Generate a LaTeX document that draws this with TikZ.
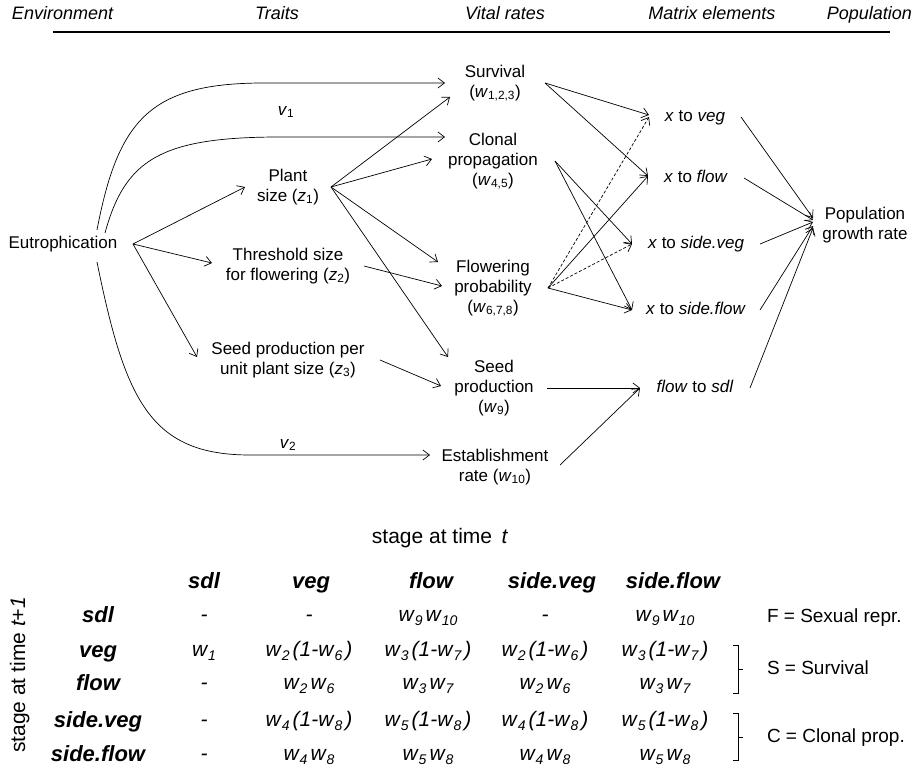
\documentclass[tikz,border=0pt]{standalone}
\usepackage{fontspec}
\setmainfont{Liberation Sans}
\usetikzlibrary{arrows.meta}
\newcommand\ww[1]{\textit{w}\kern1pt\raisebox{-4pt}{\fontsize{14}{14}\selectfont\textit{#1}}}
\begin{document}
\begin{tikzpicture}[x=1pt,y=-1pt,
  every node/.style={inner sep=0pt, outer sep=0pt},
  txt/.style={font=\fontsize{17}{20}\selectfont, align=center, minimum height=20pt},
  one/.style={txt, text height=12.5pt, text depth=4pt},
  head/.style={font=\fontsize{18}{20}\selectfont\itshape, text height=13pt, text depth=4pt},
  arr/.style={-{Straight Barb[length=6.5pt,width=10pt]}, line width=0.7pt},
  dsh/.style={arr, dash pattern=on 3pt off 2pt},
  ln/.style={line width=0.7pt},
  tlab/.style={font=\fontsize{22}{24}\selectfont\bfseries\itshape, text height=16pt, text depth=5pt},
  tent/.style={font=\fontsize{21}{24}\selectfont\itshape, text height=15pt, text depth=7pt},
  rlab/.style={font=\fontsize{19}{22}\selectfont, anchor=west, text height=14pt, text depth=4pt},
]
\useasboundingbox (0,0) rectangle (914,768);

% header
\node[head, anchor=west] (hEnv) at (12,15) {Environment};
\node[head] (hTr) at (277,15) {Traits};
\node[head] (hVr) at (505,15) {Vital rates};
\node[head] (hMe) at (712,15) {Matrix elements};
\node[head, anchor=east] (hPop) at (912,15) {Population};
\draw[line width=2pt] (53,32) -- (890,32);

% nodes
\node[one, minimum width=140pt] (eut) at (63,244) {Eutrophication};
\node[txt, minimum width=86pt] (plant) at (288,187) {Plant\\size (\textit{z}\textsubscript{1})};
\node[txt, minimum width=152pt] (thr) at (288,266) {Threshold size\\for flowering (\textit{z}\textsubscript{2})};
\node[txt, minimum width=184pt] (sper) at (288,360) {Seed production per\\unit plant size (\textit{z}\textsubscript{3})};
\node[one] (v1) at (286,111) {\textit{v}\textsubscript{1}};
\node[one] (v2) at (288,444) {\textit{v}\textsubscript{2}};

\node[txt, minimum width=100pt] (surv) at (495,83) {Survival\\(\textit{w}\textsubscript{1,2,3})};
\node[txt, minimum width=124pt] (clon) at (493,161) {Clonal\\propagation\\(\textit{w}\textsubscript{4,5})};
\node[txt, minimum width=110pt] (flw) at (493,288) {Flowering\\probability\\(\textit{w}\textsubscript{6,7,8})};
\node[txt, minimum width=106pt] (seed) at (494,388) {Seed\\production\\(\textit{w}\textsubscript{9})};
\node[txt, minimum width=130pt] (est) at (495,467) {Establishment\\rate (\textit{w}\textsubscript{10})};

\node[one, minimum width=92pt] (xveg) at (695,117) {\textit{x} to \textit{veg}};
\node[one, minimum width=96pt] (xflow) at (696,178) {\textit{x} to \textit{flow}};
\node[one, minimum width=128pt] (xsveg) at (696,244) {\textit{x} to \textit{side.veg}};
\node[one, minimum width=128pt] (xsflow) at (696,310) {\textit{x} to \textit{side.flow}};
\node[one, minimum width=110pt] (fsdl) at (695,388) {\textit{flow} to \textit{sdl}};
\node[txt, minimum width=104pt] (pop) at (865,225) {Population\\growth rate};

% environment arrows
\draw[arr] ([shift={(34,-14)}]eut.center) .. controls (118,120) and (150,84) .. (260,83) -- (surv.west);
\draw[arr] ([shift={(42,-11)}]eut.center) .. controls (125,160) and (160,137) .. (280,137) -- ([shift={(14,-24)}]clon.west);
\draw[arr] ([shift={(34,18)}]eut.center) .. controls (125,400) and (150,455) .. (250,455) -- ([shift={(0,-12)}]est.west);
\draw[arr] (eut.east) -- (plant.west);
\draw[arr] (eut.east) -- ([shift={(0,-3)}]thr.west);
\draw[arr] (eut.east) -- ([shift={(1,-3)}]sper.west);

% trait arrows
\draw[arr] (plant.east) -- ([shift={(5,14)}]surv.west);
\draw[arr] (plant.east) -- ([shift={(1,-2)}]clon.west);
\draw[arr] (plant.east) -- ([shift={(0,-26)}]flw.west);
\draw[arr] (plant.east) -- ([shift={(-46,-31)}]seed.center);
\draw[arr] (thr.east) -- ([shift={(4,-2)}]flw.west);
\draw[arr] (sper.east) -- ([shift={(0,-2)}]seed.west);

% vital rate arrows
\draw[arr] (surv.east) -- ([shift={(0,-2)}]xveg.west);
\draw[arr] (surv.east) -- ([shift={(0,-2)}]xflow.west);
\draw[arr] (clon.east) -- (xsveg.west);
\draw[arr] (clon.east) -- (xsflow.west);
\draw[dsh] (flw.east) -- (xveg.west);
\draw[arr] (flw.east) -- ([shift={(0,-2)}]xflow.west);
\draw[dsh] (flw.east) -- (xsveg.west);
\draw[arr] (flw.east) -- (xsflow.west);
\draw[arr] (seed.east) -- (fsdl.west);
\draw[arr] ([shift={(0,-2)}]est.east) -- (fsdl.west);

% matrix elements to population
\draw[arr] (xveg.east) -- ([shift={(0,-7)}]pop.west);
\draw[arr] (xflow.east) -- ([shift={(0,-5)}]pop.west);
\draw[arr] (xsveg.east) -- ([shift={(0,-3)}]pop.west);
\draw[arr] (xsflow.east) -- ([shift={(0,1)}]pop.west);
\draw[arr] (fsdl.east) -- ([shift={(0,3)}]pop.west);

% table
\node[font=\fontsize{21}{24}\selectfont, text height=15pt, text depth=5pt] (tt) at (440,538) {stage at time\, \textit{t}};
\node[font=\fontsize{21}{24}\selectfont, rotate=90, text height=15pt, text depth=5pt] (tt1) at (20,675) {stage at time \textit{t+1}};

\node[tlab] (ch1) at (204,583) {sdl};
\node[tlab] (ch2) at (311,583) {veg};
\node[tlab] (ch3) at (431,583) {flow};
\node[tlab] (ch4) at (552,583) {side.veg};
\node[tlab] (ch5) at (673,583) {side.flow};

\node[tlab] (rh1) at (98,617) {sdl};
\node[tlab] (rh2) at (98,652) {veg};
\node[tlab] (rh3) at (98,685) {flow};
\node[tlab] (rh4) at (98,722) {side.veg};
\node[tlab] (rh5) at (98,756) {side.flow};

\node[tent] (e11) at (204,617) {-};
\node[tent] (e12) at (309,617) {-};
\node[tent] (e13) at (428,617) {\ww{9}\kern3pt\ww{10}};
\node[tent] (e14) at (545,617) {-};
\node[tent] (e15) at (665,617) {\ww{9}\kern3pt\ww{10}};

\node[tent] (e21) at (204,652) {\ww{1}};
\node[tent] (e22) at (309,652) {\ww{2}\kern3pt(1-\ww{6}\kern3pt)};
\node[tent] (e23) at (428,652) {\ww{3}\kern3pt(1-\ww{7}\kern3pt)};
\node[tent] (e24) at (545,652) {\ww{2}\kern3pt(1-\ww{6}\kern3pt)};
\node[tent] (e25) at (665,652) {\ww{3}\kern3pt(1-\ww{7}\kern3pt)};

\node[tent] (e31) at (204,685) {-};
\node[tent] (e32) at (309,685) {\ww{2}\kern3pt\ww{6}};
\node[tent] (e33) at (428,685) {\ww{3}\kern3pt\ww{7}};
\node[tent] (e34) at (545,685) {\ww{2}\kern3pt\ww{6}};
\node[tent] (e35) at (665,685) {\ww{3}\kern3pt\ww{7}};

\node[tent] (e41) at (204,722) {-};
\node[tent] (e42) at (309,722) {\ww{4}\kern3pt(1-\ww{8}\kern3pt)};
\node[tent] (e43) at (428,722) {\ww{5}\kern3pt(1-\ww{8}\kern3pt)};
\node[tent] (e44) at (545,722) {\ww{4}\kern3pt(1-\ww{8}\kern3pt)};
\node[tent] (e45) at (665,722) {\ww{5}\kern3pt(1-\ww{8}\kern3pt)};

\node[tent] (e51) at (204,756) {-};
\node[tent] (e52) at (309,756) {\ww{4}\kern3pt\ww{8}};
\node[tent] (e53) at (428,756) {\ww{5}\kern3pt\ww{8}};
\node[tent] (e54) at (545,756) {\ww{4}\kern3pt\ww{8}};
\node[tent] (e55) at (665,756) {\ww{5}\kern3pt\ww{8}};

\node[rlab] (rF) at (767,617) {F = Sexual repr.};
\node[rlab] (rS) at (767,669) {S = Survival};
\node[rlab] (rC) at (767,737) {C = Clonal prop.};

\draw[ln] (733,645) -| (738,693) -- (733,693);
\draw[ln] (738,669) -- (743,669);
\draw[ln] (733,713) -| (738,760) -- (733,760);
\draw[ln] (738,737) -- (743,737);
\end{tikzpicture}
\end{document}
